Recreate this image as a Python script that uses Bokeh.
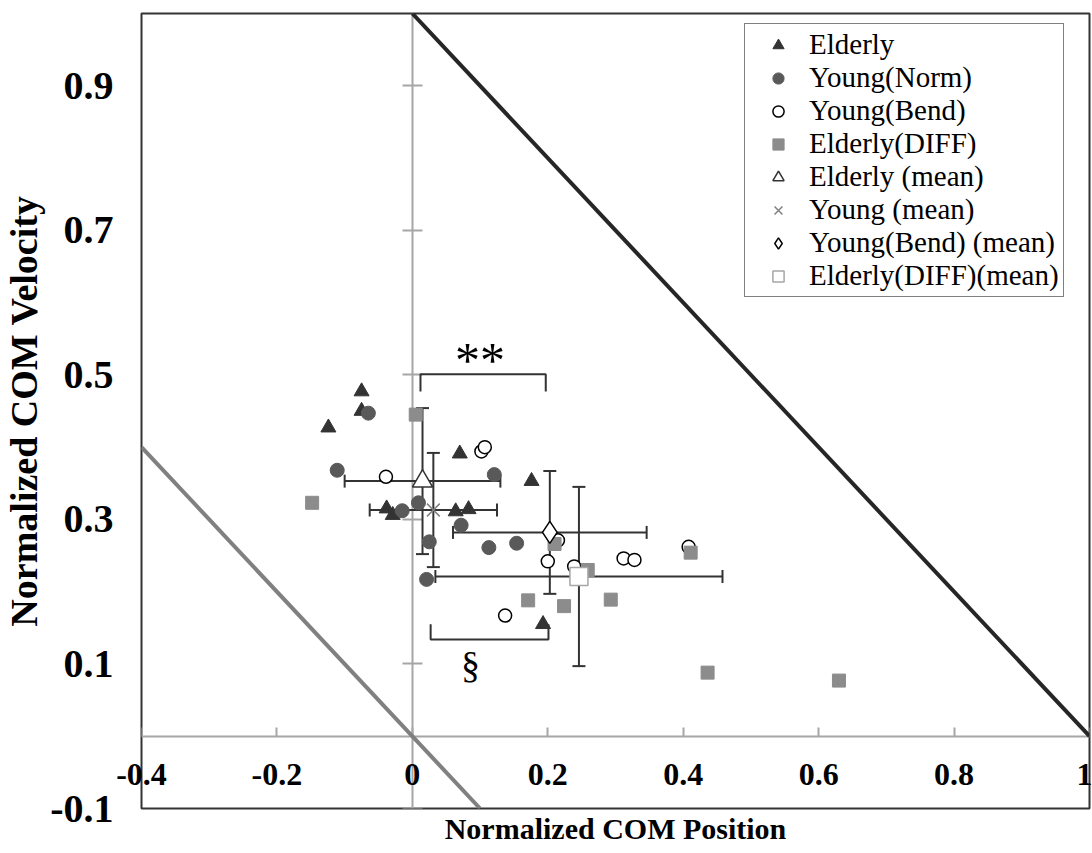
from bokeh.plotting import figure
from bokeh.models import (LinearAxis, FixedTicker, Whisker, TeeHead, Legend, LegendItem,
                          ColumnDataSource, Range1d)
from bokeh.embed import file_html
from bokeh.resources import INLINE
from bokeh.core.properties import value

SERIF = "Liberation Serif"

# ---------------- data ----------------
x_ticks = [-0.4, -0.2, 0, 0.2, 0.4, 0.6, 0.8, 1.0]
x_tick_labels = ["-0.4", "-0.2", "0", "0.2", "0.4", "0.6", "0.8", "1"]
y_ticks = [-0.1, 0.1, 0.3, 0.5, 0.7, 0.9]
y_tick_labels = ["-0.1", "0.1", "0.3", "0.5", "0.7", "0.9"]

elderly_x = [-0.124, -0.075, -0.075, 0.070, 0.176, -0.038, -0.029, 0.064, 0.083, 0.193]
elderly_v = [0.427, 0.477, 0.450, 0.391, 0.353, 0.315, 0.306, 0.311, 0.314, 0.155]

young_norm_x = [-0.065, -0.111, 0.121, -0.015, 0.009, 0.072, 0.025, 0.113, 0.154, 0.021]
young_norm_v = [0.447, 0.368, 0.362, 0.312, 0.323, 0.292, 0.269, 0.261, 0.267, 0.217]

young_bend_x = [-0.039, 0.102, 0.107, 0.200, 0.137, 0.239, 0.215, 0.312, 0.328, 0.408]
young_bend_v = [0.359, 0.394, 0.400, 0.242, 0.167, 0.235, 0.271, 0.246, 0.244, 0.262]

elderly_diff_x = [0.005, -0.148, 0.171, 0.224, 0.210, 0.259, 0.293, 0.411, 0.436, 0.630]
elderly_diff_v = [0.445, 0.323, 0.188, 0.180, 0.266, 0.230, 0.189, 0.254, 0.088, 0.077]

mean_labels = ["Elderly (mean)", "Young (mean)", "Young(Bend) (mean)", "Elderly(DIFF)(mean)"]
mean_x = [0.015, 0.031, 0.203, 0.246]
mean_v = [0.353, 0.313, 0.282, 0.221]
mean_x_sd = [0.115, 0.094, 0.143, 0.212]
mean_v_sd = [0.101, 0.079, 0.085, 0.124]

# significance brackets
bracket_x0 = [0.012, 0.027]
bracket_x1 = [0.197, 0.201]
bracket_v = [0.501, 0.134]
bracket_leg_v = [0.477, 0.155]
sig_text = ["**", "§"]
sig_x = [0.100, 0.086]
sig_v = [0.520, 0.099]

# boundary lines
upper_limit_x = [0.0, 1.0]
upper_limit_v = [1.0, 0.0]
lower_limit_x = [-0.4, 0.1]
lower_limit_v = [0.4, -0.1]

# ---------------- figure ----------------
p = figure(width=1092, height=853, x_range=Range1d(-0.4, 1.0), y_range=Range1d(-0.1, 1.0),
           output_backend="svg", toolbar_location=None,
           min_border_left=139, min_border_right=3, min_border_top=13, min_border_bottom=45,
           background_fill_color="white", border_fill_color="white")
p.grid.visible = False
p.outline_line_color = "#333333"
p.outline_line_width = 2

# x axis below: tick labels lifted up to sit under the v = 0 line, plus title
xa = p.xaxis[0]
xa.ticker = FixedTicker(ticks=x_ticks, minor_ticks=[])
xa.major_label_overrides = dict(zip(x_ticks, x_tick_labels))
xa.axis_line_color = None
xa.major_tick_line_color = None
xa.minor_tick_line_color = None
xa.major_tick_in = 0
xa.major_tick_out = 0
xa.major_label_text_font = SERIF
xa.major_label_text_font_style = "bold"
xa.major_label_text_font_size = "32px"
xa.major_label_text_color = "black"
xa.major_label_standoff = -45
xa.axis_label = "Normalized COM Position"
xa.axis_label_text_font = SERIF
xa.axis_label_text_font_style = "bold"
xa.axis_label_text_font_size = "30px"
xa.axis_label_text_color = "black"
xa.axis_label_standoff = 24

# x axis line crossing at v = 0
xf = LinearAxis(fixed_location=0, ticker=FixedTicker(ticks=x_ticks, minor_ticks=[]),
                major_label_overrides={t: "" for t in x_ticks},
                axis_line_color="#a6a6a6", axis_line_width=2,
                major_tick_in=9, major_tick_out=0, major_tick_line_color="#a6a6a6",
                major_tick_line_width=2, minor_tick_line_color=None, level="underlay")
p.add_layout(xf, "below")

# labeled y axis on the left
ya = p.yaxis[0]
ya.ticker = FixedTicker(ticks=y_ticks, minor_ticks=[])
ya.major_label_overrides = dict(zip(y_ticks, y_tick_labels))
ya.axis_line_color = None
ya.major_tick_line_color = None
ya.minor_tick_line_color = None
ya.major_tick_in = 0
ya.major_tick_out = 0
ya.major_label_standoff = 28
ya.major_label_text_font = SERIF
ya.major_label_text_font_style = "bold"
ya.major_label_text_font_size = "40px"
ya.major_label_text_color = "black"
ya.axis_label = "Normalized COM Velocity"
ya.axis_label_text_font = SERIF
ya.axis_label_text_font_style = "bold"
ya.axis_label_text_font_size = "38px"
ya.axis_label_text_color = "black"
ya.axis_label_standoff = 2

# y axis line crossing at x = 0
ya0 = LinearAxis(fixed_location=0, ticker=FixedTicker(ticks=y_ticks, minor_ticks=[]),
                 major_label_overrides={t: "" for t in y_ticks},
                 axis_line_color="#a6a6a6", axis_line_width=2,
                 major_tick_in=10, major_tick_out=10, major_tick_line_color="#a6a6a6",
                 major_tick_line_width=2, minor_tick_line_color=None, level="underlay")
p.add_layout(ya0, "left")

# boundary lines
p.line(upper_limit_x, upper_limit_v, line_color="#262626", line_width=4)
p.line(lower_limit_x, lower_limit_v, line_color="#808080", line_width=4)

# individual points
r_eld = p.scatter(elderly_x, elderly_v, marker="triangle", size=15,
                  fill_color="#333333", line_color="#333333")
r_yn = p.scatter(young_norm_x, young_norm_v, marker="circle", size=14,
                 fill_color="#595959", line_color="#595959")
r_yb = p.scatter(young_bend_x, young_bend_v, marker="circle", size=13,
                 fill_color="white", line_color="black", line_width=1.5)
r_ed = p.scatter(elderly_diff_x, elderly_diff_v, marker="square", size=13,
                 fill_color="#8c8c8c", line_color="#8c8c8c")

# error bars
src_m = ColumnDataSource(dict(
    x=mean_x, v=mean_v,
    x_lo=[m - s for m, s in zip(mean_x, mean_x_sd)],
    x_hi=[m + s for m, s in zip(mean_x, mean_x_sd)],
    v_lo=[m - s for m, s in zip(mean_v, mean_v_sd)],
    v_hi=[m + s for m, s in zip(mean_v, mean_v_sd)],
))
for dim, base, lo, hi in [("width", "v", "x_lo", "x_hi"), ("height", "x", "v_lo", "v_hi")]:
    w = Whisker(source=src_m, base=base, lower=lo, upper=hi, dimension=dim,
                line_color="#333333", line_width=2, level="underlay",
                upper_head=TeeHead(size=13, line_color="#333333", line_width=2),
                lower_head=TeeHead(size=13, line_color="#333333", line_width=2))
    p.add_layout(w)

# mean markers
r_m1 = p.scatter(mean_x[0:1], mean_v[0:1], marker="triangle", size=20,
                 fill_color="white", line_color="#333333", line_width=1.5)
r_m2 = p.scatter(mean_x[1:2], mean_v[1:2], marker="x", size=18,
                 line_color="#808080", line_width=1.5)
r_m3 = p.scatter(mean_x[2:3], mean_v[2:3], marker="diamond", size=22,
                 fill_color="white", line_color="black", line_width=1.5)
r_m4 = p.scatter(mean_x[3:4], mean_v[3:4], marker="square", size=18,
                 fill_color="white", line_color="#a6a6a6", line_width=1.5)

# significance brackets and marks
br_xs = [[a, a, b, b] for a, b in zip(bracket_x0, bracket_x1)]
br_ys = [[l, v, v, l] for v, l in zip(bracket_v, bracket_leg_v)]
p.multi_line(br_xs, br_ys, line_color="#333333", line_width=2)
p.text(sig_x[0:1], sig_v[0:1], text=sig_text[0:1], text_font=value(SERIF), text_font_size="50px",
       text_align="center", text_baseline="middle", text_color="black")
p.text(sig_x[1:2], sig_v[1:2], text=sig_text[1:2], text_font=value(SERIF), text_font_size="38px",
       text_align="center", text_baseline="middle", text_color="black")

legend = Legend(items=[
    LegendItem(label="Elderly", renderers=[r_eld]),
    LegendItem(label="Young(Norm)", renderers=[r_yn]),
    LegendItem(label="Young(Bend)", renderers=[r_yb]),
    LegendItem(label="Elderly(DIFF)", renderers=[r_ed]),
    LegendItem(label=mean_labels[0], renderers=[r_m1]),
    LegendItem(label=mean_labels[1], renderers=[r_m2]),
    LegendItem(label=mean_labels[2], renderers=[r_m3]),
    LegendItem(label=mean_labels[3], renderers=[r_m4]),
], location=(603, 511), margin=0, padding=4, spacing=0,
    glyph_width=58, glyph_height=28, label_height=28, label_width=250, label_standoff=2,
    label_text_font=SERIF, label_text_font_size="29px", label_text_color="black",
    border_line_color="black", border_line_width=1.5,
    background_fill_color="white", background_fill_alpha=1)
p.add_layout(legend)

open("out.html", "w").write(file_html(p, INLINE))
